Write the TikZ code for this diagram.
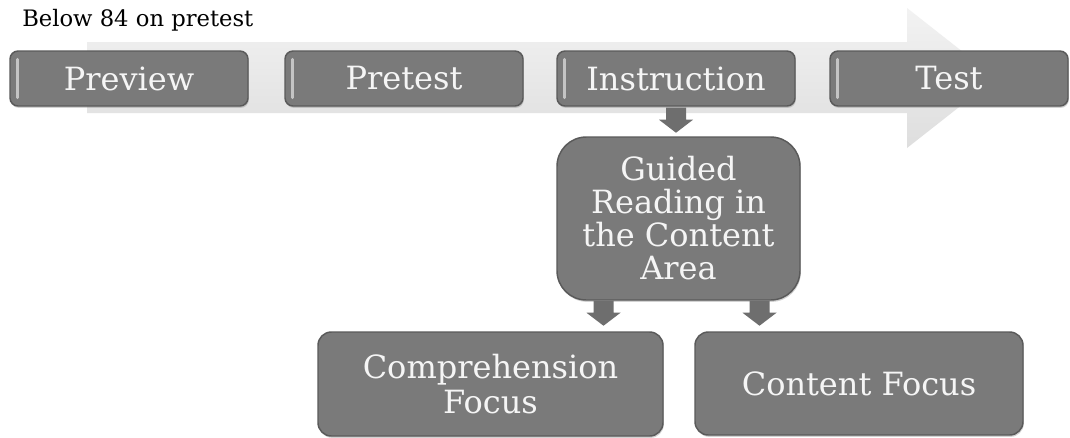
\documentclass[tikz,border=0pt]{standalone}
\usepackage{fontspec}
\setmainfont{DejaVu Serif}
\usetikzlibrary{calc,shadows}
\definecolor{boxgray}{HTML}{7A7A7A}
\definecolor{boxedge}{HTML}{5A5A5A}
\definecolor{arrgray}{HTML}{6E6E6E}
\definecolor{hilite}{HTML}{C4C4C4}
\tikzset{
  stepbox/.style={draw=boxedge, line width=1.1pt, fill=boxgray, rounded corners=6pt,
    text=white!96!black, font=\fontsize{24}{24.75}\selectfont, align=center, inner sep=0pt,
    drop shadow={shadow xshift=0.6pt, shadow yshift=-1.4pt, opacity=0.35}},
  topbox/.style={stepbox, minimum width=238*0.75pt, minimum height=55*0.75pt},
  hiline/.style={draw=hilite, line width=2pt, line cap=round},
  blockarr/.style={fill=arrgray, draw=none},
  pics/downblock/.style={code={
    \fill[blockarr] (-10,0) -- (10,0) -- (10,12) -- (17,12) -- (0,25) -- (-17,12) -- (-10,12) -- cycle;}},
}
\begin{document}
\begin{tikzpicture}[x=0.75pt,y=-0.75pt]
\useasboundingbox (0,0) rectangle (1070,437);
\fill[white] (0,0) rectangle (1070,437);
% big background arrow
\shade[top color=white!95!black, bottom color=white!87!black]
  (87,42) -- (907,42) -- (907,8) -- (996,78) -- (907,148) -- (907,113) -- (87,113) -- cycle;
% title
\node[anchor=base west, font=\fontsize{17}{20}\selectfont, text=black, inner sep=0pt] (title) at (22,26) {Below 84 on pretest};
% top row
\node[topbox] (pv) at (129,78.5) {Preview};
\node[topbox] (pt) at (404,78.5) {Pretest};
\node[topbox] (in) at (676,78.5) {Instruction};
\node[topbox] (ts) at (949,78.5) {Test};
\foreach \b in {pv,pt,in,ts}{
  \draw[hiline] ($(\b.north west)+(8,9)$) -- ($(\b.south west)+(8,-9)$);
}
% guided reading
\node[stepbox, rounded corners=22pt, minimum width=243*0.75pt, minimum height=163*0.75pt] (gr) at (678.5,218.5)
  {Guided\\Reading in\\the Content\\Area};
% bottom row
\node[stepbox, rounded corners=10pt, minimum width=345*0.75pt, minimum height=104*0.75pt, font=\fontsize{24}{26}\selectfont] (cf) at (490.5,384)
  {Comprehension\\Focus};
\node[stepbox, rounded corners=10pt, minimum width=328*0.75pt, minimum height=103*0.75pt] (ct) at (859,383.5)
  {Content Focus};
% block arrows
\pic at ($(in.south)+(0,1)$) {downblock};
\pic at ($(gr.south)+(-75,0)$) {downblock};
\pic at ($(gr.south)+(81,0)$) {downblock};
\end{tikzpicture}
\end{document}
